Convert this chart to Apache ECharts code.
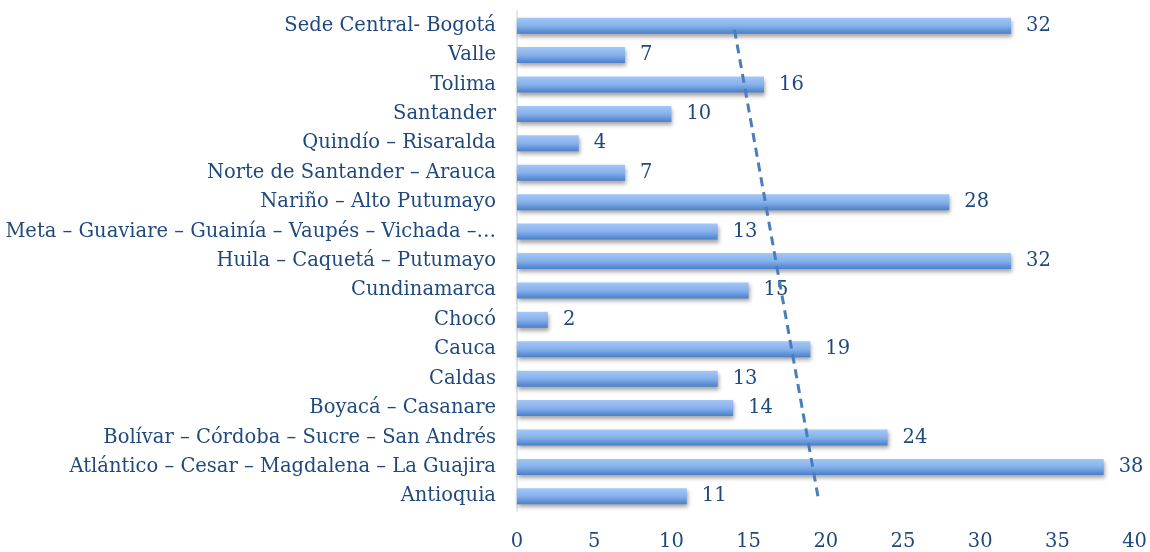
<!DOCTYPE html>
<html><head><meta charset="utf-8">
<script src="https://cdn.jsdelivr.net/npm/echarts@6/dist/echarts.min.js"></script>
<style>html,body{margin:0;padding:0;background:#fff}#c{width:1150px;height:552px}</style>
</head><body><div id="c"></div>
<script>
const categories = ["Antioquia","Atlántico – Cesar – Magdalena – La Guajira","Bolívar – Córdoba – Sucre – San Andrés","Boyacá – Casanare","Caldas","Cauca","Chocó","Cundinamarca","Huila – Caquetá – Putumayo","Meta – Guaviare – Guainía – Vaupés – Vichada –…","Nariño – Alto Putumayo","Norte de Santander – Arauca","Quindío – Risaralda","Santander","Tolima","Valle","Sede Central- Bogotá"];
const values = [11,38,24,14,13,19,2,15,32,13,28,7,4,10,16,7,32];
const xTicks = [0,5,10,15,20,25,30,35,40];

// linear trendline (least squares) over the category index
const n = values.length;
const mx = (n - 1) / 2;
const my = values.reduce((a, b) => a + b, 0) / n;
let sxy = 0, sxx = 0;
values.forEach((v, i) => { sxy += (i - mx) * (v - my); sxx += (i - mx) * (i - mx); });
const slope = sxy / sxx;
const trend = [[my + slope * (0 - mx), categories[0]], [my + slope * (n - 1 - mx), categories[n - 1]]];

const txt = '#1f497d';
const font = 'DejaVu Serif';
const chart = echarts.init(document.getElementById('c'));
chart.setOption({
  animation: false,
  grid: { left: 517, right: 15, top: 11, bottom: 41, containLabel: false },
  xAxis: {
    type: 'value', min: 0, max: 40, interval: 5,
    axisLine: { show: false }, axisTick: { show: false }, splitLine: { show: false },
    axisLabel: { color: txt, fontFamily: font, fontSize: 19.5, margin: 21,
      formatter: v => xTicks.includes(v) ? String(v) : '' }
  },
  yAxis: {
    type: 'category', data: categories,
    axisLine: { show: true, lineStyle: { color: '#d6dfea', width: 1.5 } },
    axisTick: { show: false },
    axisLabel: { color: txt, fontFamily: font, fontSize: 19.5, margin: 21 }
  },
  series: [{
    type: 'bar', data: values, barWidth: 16,
    itemStyle: {
      color: new echarts.graphic.LinearGradient(0, 0, 0, 1, [
        { offset: 0, color: '#a3c7f7' },
        { offset: 0.5, color: '#86b1ec' },
        { offset: 1, color: '#4a7fc9' }
      ]),
      shadowColor: 'rgba(0,0,0,0.35)', shadowBlur: 4, shadowOffsetY: 3, shadowOffsetX: 1
    },
    label: { show: true, position: 'right', distance: 15, color: txt, fontFamily: font, fontSize: 19.5 }
  }, {
    type: 'line', data: trend, symbol: 'none', z: 5,
    lineStyle: { color: '#4a7ebb', width: 3, type: [9, 6] }
  }]
});
</script></body></html>
